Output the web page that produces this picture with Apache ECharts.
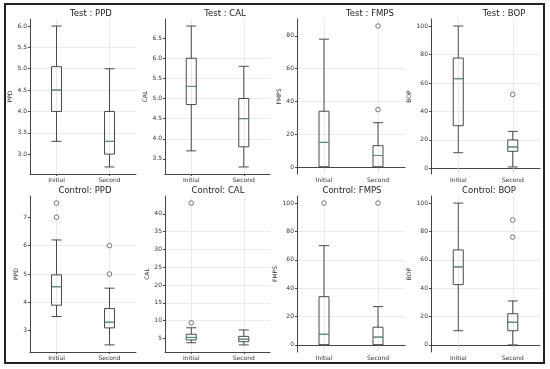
<!DOCTYPE html>
<html>
<head>
<meta charset="utf-8">
<script src="https://cdn.jsdelivr.net/npm/echarts@6/dist/echarts.min.js"></script>
<style>html,body{margin:0;padding:0;background:#fff}#c{width:550px;height:369px}</style>
</head>
<body>
<div id="c"></div>
<script>
// ---------------- DATA ----------------
const categories = ['Initial', 'Second'];

// [min, Q1, median, Q3, max] per category
const testPPD   = [[3.3, 4.0, 4.5, 5.05, 6.0], [2.7, 3.0, 3.3, 4.0, 5.0]];
const testCAL   = [[3.7, 4.85, 5.3, 6.0, 6.8], [3.3, 3.8, 4.5, 5.0, 5.8]];
const testFMPS  = [[0, 0, 15, 34, 78], [0, 0, 7, 13, 27]];
const testBOP   = [[11, 30, 63, 77.5, 100], [1, 12, 15, 20, 26]];
const ctrlPPD   = [[3.5, 3.9, 4.55, 4.97, 6.2], [2.5, 3.1, 3.3, 3.78, 4.5]];
const ctrlCAL   = [[3.8, 4.6, 5.3, 6.2, 8.0], [3.2, 4.1, 4.8, 5.6, 7.4]];
const ctrlFMPS  = [[0, 0, 7.5, 34, 70], [0, 0, 5.5, 12.5, 27]];
const ctrlBOP   = [[10, 42.5, 55, 67, 100], [0, 10, 16, 22, 31]];

// outliers per category
const testPPDOut  = [[], []];
const testCALOut  = [[], []];
const testFMPSOut = [[], [35, 86]];
const testBOPOut  = [[], [52]];
const ctrlPPDOut  = [[7.0, 7.5], [5.0, 6.0]];
const ctrlCALOut  = [[9.4, 43], []];
const ctrlFMPSOut = [[100], [100]];
const ctrlBOPOut  = [[], [76, 88]];

// tick labels
const testPPDTicks  = [3.0, 3.5, 4.0, 4.5, 5.0, 5.5, 6.0];
const testCALTicks  = [3.5, 4.0, 4.5, 5.0, 5.5, 6.0, 6.5];
const testFMPSTicks = [0, 20, 40, 60, 80];
const testBOPTicks  = [0, 20, 40, 60, 80, 100];
const ctrlPPDTicks  = [3, 4, 5, 6, 7];
const ctrlCALTicks  = [5, 10, 15, 20, 25, 30, 35, 40];
const ctrlFMPSTicks = [0, 20, 40, 60, 80, 100];
const ctrlBOPTicks  = [0, 20, 40, 60, 80, 100];

const titles = ['Test : PPD', 'Test : CAL', 'Test : FMPS', 'Test : BOP',
                'Control: PPD', 'Control: CAL', 'Control: FMPS', 'Control: BOP'];
const yNames = ['PPD', 'CAL', 'FMPS', 'BOP', 'PPD', 'CAL', 'FMPS', 'BOP'];

// ---------------- LAYOUT / STYLE ----------------
const panels = [
  {stats: testPPD, out: testPPDOut, ticks: testPPDTicks, dec: 1},
  {stats: testCAL, out: testCALOut, ticks: testCALTicks, dec: 1},
  {stats: testFMPS, out: testFMPSOut, ticks: testFMPSTicks, dec: 0},
  {stats: testBOP, out: testBOPOut, ticks: testBOPTicks, dec: 0},
  {stats: ctrlPPD, out: ctrlPPDOut, ticks: ctrlPPDTicks, dec: 0},
  {stats: ctrlCAL, out: ctrlCALOut, ticks: ctrlCALTicks, dec: 0},
  {stats: ctrlFMPS, out: ctrlFMPSOut, ticks: ctrlFMPSTicks, dec: 0},
  {stats: ctrlBOP, out: ctrlBOPOut, ticks: ctrlBOPTicks, dec: 0}
];
const cols = [[30, 136], [165, 270], [297, 405], [431, 540]];
const rows = [[19, 174], [196, 352]];
const nameGaps = [16, 17, 15, 16, 10, 15, 18, 17];
const titlePos = [[91, 14], [225, 14], [370, 14], [504, 14], [85, 191], [218, 191], [352, 191], [489, 191]];

const FONT = 'DejaVu Sans';
const AX = '#444';
const BOX = '#4a4a4a';
const MED = '#4aa88a';
const GRIDC = '#e6e6e6';

const grids = [], xAxes = [], yAxes = [], series = [], graphics = [];

panels.forEach((p, i) => {
  const r = Math.floor(i / 4), c = i % 4;
  grids.push({left: cols[c][0], width: cols[c][1] - cols[c][0], top: rows[r][0], height: rows[r][1] - rows[r][0], containLabel: false});
  let all = [];
  p.stats.forEach(s => all = all.concat(s));
  p.out.forEach(o => all = all.concat(o));
  const dmin = Math.min(...all), dmax = Math.max(...all);
  const pad = (dmax - dmin) * 0.05;
  const step = p.ticks[1] - p.ticks[0];
  xAxes.push({
    type: 'category', gridIndex: i, data: categories, boundaryGap: true,
    axisLine: {show: true, lineStyle: {color: AX, width: 1}},
    axisTick: {show: true, alignWithLabel: true, length: 2, lineStyle: {color: AX}},
    axisLabel: {fontSize: 6, color: '#333', margin: 3, fontFamily: FONT},
    splitLine: {show: false}
  });
  yAxes.push({
    type: 'value', gridIndex: i, min: dmin - pad, max: dmax + pad,
    minInterval: step, maxInterval: step,
    name: yNames[i], nameLocation: 'middle', nameGap: nameGaps[i],
    nameTextStyle: {fontSize: 6, color: '#333', fontFamily: FONT},
    axisLine: {show: true, lineStyle: {color: AX, width: 1}},
    axisTick: {show: true, length: 2, lineStyle: {color: AX}, customValues: p.ticks},
    axisLabel: {fontSize: 6, color: '#333', margin: 3, fontFamily: FONT, customValues: p.ticks,
      formatter: v => {
        const ok = p.ticks.some(t => Math.abs(t - v) < 1e-6);
        return ok ? v.toFixed(p.dec) : '';
      }},
    splitLine: {show: true, showMinLine: false, showMaxLine: false, lineStyle: {color: GRIDC, width: 0.8}}
  });
  series.push({
    type: 'boxplot', xAxisIndex: i, yAxisIndex: i, data: p.stats,
    boxWidth: [10, 10], silent: true, z: 3,
    itemStyle: {color: 'transparent', borderColor: BOX, borderWidth: 1},
    emphasis: {disabled: true},
    markLine: {
      silent: true, symbol: ['none', 'none'], z: 1, animation: false,
      label: {show: false},
      emphasis: {disabled: true},
      lineStyle: {color: GRIDC, width: 0.8, type: 'solid'},
      data: categories.map(cat => ({xAxis: cat}))
    }
  });
  series.push({
    type: 'scatter', xAxisIndex: i, yAxisIndex: i, silent: true, z: 4,
    symbol: 'rect', symbolSize: [10, 1.1],
    itemStyle: {color: MED},
    data: p.stats.map((s, k) => [k, s[2]])
  });
  const outs = [];
  p.out.forEach((o, k) => o.forEach(v => outs.push([k, v])));
  series.push({
    type: 'scatter', xAxisIndex: i, yAxisIndex: i, silent: true, z: 4,
    symbol: 'circle', symbolSize: 4.6,
    itemStyle: {color: '#fff', borderColor: '#3a3a3a', borderWidth: 0.85},
    emphasis: {disabled: true},
    data: outs
  });
  graphics.push({
    type: 'text', x: titlePos[i][0], y: titlePos[i][1], silent: true,
    style: {text: titles[i], align: 'center', verticalAlign: 'middle',
      font: '8.5px "' + FONT + '"', fill: '#222'}
  });
});

graphics.push({
  type: 'rect', silent: true, z: 100,
  shape: {x: 5, y: 4, width: 539, height: 359},
  style: {fill: null, stroke: '#222', lineWidth: 2}
});

const chart = echarts.init(document.getElementById('c'), null, {renderer: 'canvas'});
chart.setOption({
  animation: false,
  backgroundColor: '#fff',
  grid: grids, xAxis: xAxes, yAxis: yAxes, series: series,
  graphic: graphics
});
</script>
</body>
</html>
